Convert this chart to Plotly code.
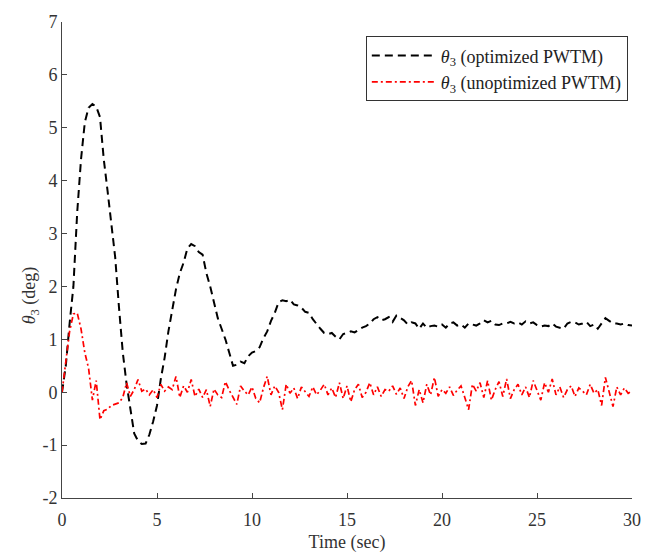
# theta_3 response: optimized vs unoptimized PWTM

import numpy as np
import plotly.graph_objs as go

# time grid (sec), 0.2 s step
time = np.round(np.arange(151) * 0.2, 1)

# theta_3 with optimized PWTM (deg)
theta_opt = [
    0.0, 0.5, 1.3, 2.0, 3.4, 4.4, 5.1, 5.38, 5.45, 5.4,
    5.2, 4.4, 3.8, 3.2, 2.55, 1.6, 0.75, 0.15, -0.35, -0.78,
    -0.92, -0.98, -0.97, -0.8, -0.55, -0.25, 0.25, 0.65, 1.15, 1.55,
    1.95, 2.25, 2.45, 2.72, 2.8, 2.76, 2.65, 2.6, 2.25, 2.0,
    1.7, 1.4, 1.2, 1.0, 0.75, 0.5, 0.52, 0.58, 0.55, 0.68,
    0.75, 0.78, 0.85, 1.02, 1.15, 1.35, 1.5, 1.7, 1.74, 1.72,
    1.75, 1.66, 1.64, 1.6, 1.52, 1.5, 1.38, 1.28, 1.2, 1.12,
    1.1, 1.12, 1.05, 1.0, 1.1, 1.12, 1.15, 1.13, 1.18, 1.22,
    1.25, 1.3, 1.38, 1.42, 1.36, 1.38, 1.42, 1.33, 1.45, 1.4,
    1.36, 1.28, 1.32, 1.3, 1.2, 1.3, 1.22, 1.25, 1.26, 1.24,
    1.28, 1.22, 1.3, 1.32, 1.26, 1.28, 1.22, 1.3, 1.28, 1.26,
    1.3, 1.36, 1.32, 1.35, 1.28, 1.27, 1.3, 1.3, 1.33, 1.3,
    1.32, 1.28, 1.34, 1.3, 1.32, 1.27, 1.24, 1.26, 1.25, 1.3,
    1.24, 1.22, 1.2, 1.3, 1.33, 1.32, 1.28, 1.3, 1.33, 1.25,
    1.28, 1.2, 1.3, 1.4, 1.35, 1.3, 1.3, 1.28, 1.3, 1.27,
    1.26,
]

# theta_3 with unoptimized PWTM (deg)
theta_unopt = [
    0.0, 0.55, 1.15, 1.48, 1.5, 1.2, 0.75, 0.45, -0.15, 0.22,
    -0.52, -0.35, -0.32, -0.25, -0.22, -0.2, -0.1, 0.18, -0.08, 0.05,
    0.24, 0.02, 0.06, -0.05, 0.05, -0.1, 0.15, 0.02, 0.1, 0.05,
    0.3, -0.1, 0.12, 0.0, 0.24, -0.08, 0.06, -0.1, 0.05, -0.27,
    0.06, -0.05, -0.1, 0.2, 0.04, -0.1, -0.23, 0.12, 0.02, -0.05,
    0.1, -0.12, -0.2, 0.08, 0.3, -0.05, 0.12, 0.0, -0.33, 0.15,
    -0.02, 0.08, -0.12, 0.1, 0.02, -0.08, 0.1, -0.05, 0.04, 0.15,
    -0.05, 0.08, -0.1, 0.18, -0.12, 0.12, -0.18, 0.05, 0.15, -0.1,
    0.0, 0.18, -0.05, 0.1, -0.08, 0.05, 0.02, 0.12, -0.04, 0.08,
    -0.12, 0.1, 0.22, -0.25, 0.05, -0.2, 0.15, -0.05, 0.28, -0.08,
    0.05, -0.02, 0.1, -0.06, 0.04, 0.12, -0.1, -0.33, 0.15, 0.02,
    0.18, -0.1, 0.22, -0.15, 0.05, 0.2, -0.08, 0.25, -0.12, 0.05,
    0.15, -0.05, 0.1, -0.1, 0.22, 0.05, -0.15, 0.18, 0.0, 0.25,
    -0.05, 0.1, -0.1, 0.05, 0.12, -0.08, 0.08, 0.02, -0.05, 0.15,
    -0.02, 0.05, -0.25, 0.28, 0.0, -0.27, 0.1, -0.05, 0.08, -0.02,
    0.02,
]

x_ticks = [0, 5, 10, 15, 20, 25, 30]
y_ticks = [-2, -1, 0, 1, 2, 3, 4, 5, 6, 7]
y_tick_text = ["-2", "-1", "0", "1", "2", "3", "4", "5", "6", "7"]

font_family = "Liberation Serif, Times New Roman, serif"

trace_opt = go.Scatter(
    x=time,
    y=theta_opt,
    mode="lines",
    name="<i>θ</i><sub>3</sub> (optimized PWTM)",
    line=dict(color="black", width=2, dash="8px,5px"),
)

trace_unopt = go.Scatter(
    x=time,
    y=theta_unopt,
    mode="lines",
    name="<i>θ</i><sub>3</sub> (unoptimized PWTM)",
    line=dict(color="#ff0000", width=1.7, dash="6px,3px,2px,3px"),
)

axis_style = dict(
    showline=True,
    linecolor="#444444",
    linewidth=1,
    ticks="inside",
    ticklen=5,
    tickcolor="#444444",
    showgrid=False,
    zeroline=False,
    mirror=False,
    automargin=False,
    tickfont=dict(family=font_family, size=18, color="#333333"),
)

# the page body adds an 8px offset, so margins are trimmed by 8px
layout = go.Layout(
    width=654,
    height=560,
    margin=dict(l=54, r=30, t=14, b=70),
    paper_bgcolor="white",
    plot_bgcolor="white",
    font=dict(family=font_family, size=18, color="#333333"),
    xaxis=dict(
        axis_style,
        range=[0, 30],
        tickvals=x_ticks,
        ticklabelstandoff=5,
        title=dict(text="Time (sec)", font=dict(family=font_family, size=18), standoff=6),
    ),
    yaxis=dict(
        axis_style,
        range=[-2, 7],
        tickvals=y_ticks,
        ticktext=y_tick_text,
    ),
    # y-axis title placed by hand, closer to the tick labels
    annotations=[
        dict(
            text="<i>θ</i><sub>3</sub> (deg)",
            xref="paper", yref="paper",
            x=-0.056, y=0.426,
            xanchor="center", yanchor="middle",
            textangle=-90,
            showarrow=False,
            font=dict(family=font_family, size=18, color="#333333"),
        )
    ],
    legend=dict(
        x=0.533,
        y=0.97,
        xanchor="left",
        yanchor="top",
        bgcolor="white",
        bordercolor="#333333",
        borderwidth=1,
        itemwidth=64,
        font=dict(family=font_family, size=18, color="#222222"),
        tracegroupgap=0,
    ),
    showlegend=True,
)

fig = go.Figure(data=[trace_opt, trace_unopt], layout=layout)
fig.write_html("out.html")
